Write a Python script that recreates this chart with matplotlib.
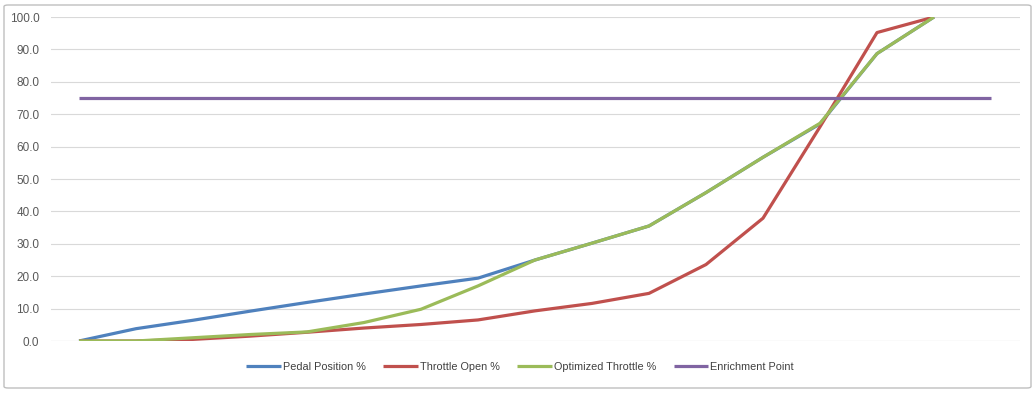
import numpy as np
import matplotlib.pyplot as plt
from matplotlib.patches import FancyBboxPatch

# Series values (17 categories, no x labels)
pedal = [0.0, 3.8, 6.4, 9.2, 11.9, 14.5, 17.0, 19.4, 25.0, 30.2, 35.5, 45.8, 56.7, 67.0, 88.7, 100.0, np.nan]
throttle = [0.0, 0.0, 0.5, 1.5, 2.7, 4.0, 5.1, 6.5, 9.3, 11.6, 14.7, 23.6, 37.9, 66.1, 95.2, 100.0, np.nan]
optimized = [0.0, 0.0, 1.0, 2.0, 2.8, 5.7, 9.8, 17.0, 25.0, 30.2, 35.5, 45.8, 56.7, 67.2, 88.7, 100.0, np.nan]
enrichment = [75.0] * 17

names = ['Pedal Position %', 'Throttle Open %', 'Optimized Throttle %', 'Enrichment Point']
colors = ['#4F81BD', '#C0504D', '#9BBB59', '#8064A2']
yticks = np.arange(0, 101, 10)

fig = plt.figure(figsize=(10.36, 3.94), dpi=100)
plt.rcParams['font.family'] = ['Liberation Sans', 'DejaVu Sans']

# outer chart frame
frame = FancyBboxPatch((4 / 1036, 6 / 394), 1027 / 1036, 383 / 394,
                       boxstyle='round,pad=0,rounding_size=0.004',
                       transform=fig.transFigure, fill=False,
                       edgecolor='#BFBFBF', linewidth=1.0)
fig.patches.append(frame)

ax = fig.add_axes([50.5 / 1036, 53 / 394, 969 / 1036, 324 / 394])
x = np.arange(17)
for vals, name, c in zip([pedal, throttle, optimized, enrichment], names, colors):
    ax.plot(x, vals, color=c, lw=2.3, label=name, solid_capstyle='butt')

ax.set_xlim(-0.5, 16.5)
ax.set_ylim(0, 100)
ax.set_yticks(yticks)
ax.set_yticklabels(['%.1f' % v for v in yticks], color='#595959', fontsize=8.5)
ax.set_xticks([])
ax.tick_params(axis='y', length=0, pad=8)
ax.grid(axis='y', color='#D9D9D9', lw=0.8)
ax.set_axisbelow(True)
for s in ax.spines.values():
    s.set_visible(False)
ax.axhline(0, color='#D9D9D9', lw=0.8, zorder=0)

leg = fig.legend(loc='center', bbox_to_anchor=(520 / 1036, 1 - 367 / 394),
                 ncol=4, frameon=False, fontsize=7.8, handlelength=3.2,
                 handletextpad=0.2, columnspacing=1.6)
for t in leg.get_texts():
    t.set_color('#404040')

plt.savefig('out.png', dpi=100)
